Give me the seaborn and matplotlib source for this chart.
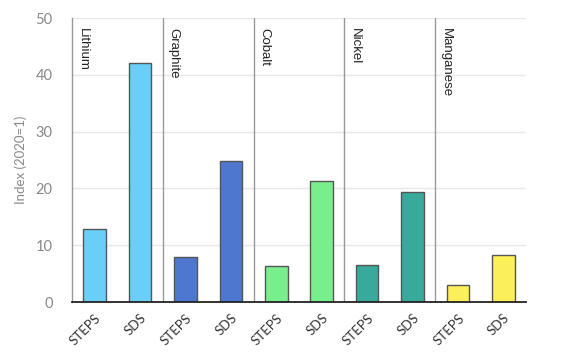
import pandas as pd
import matplotlib.pyplot as plt
import seaborn as sns

# Data
minerals = ['Lithium', 'Graphite', 'Cobalt', 'Nickel', 'Manganese']
scenarios = ['STEPS', 'SDS']
steps_values = [12.8, 7.9, 6.3, 6.5, 3.0]
sds_values = [42.0, 24.8, 21.3, 19.4, 8.3]
colors = ['#6ACFF8', '#4E78D0', '#78EE8C', '#38AA9C', '#FCF05A']

rows = []
for m, s, d in zip(minerals, steps_values, sds_values):
    rows.append({'mineral': m, 'scenario': 'STEPS', 'key': f'{m} STEPS', 'value': s})
    rows.append({'mineral': m, 'scenario': 'SDS', 'key': f'{m} SDS', 'value': d})
df = pd.DataFrame(rows)

sns.set_style('white')
plt.rcParams['font.family'] = ['Lato', 'DejaVu Sans']

fig = plt.figure(figsize=(5.73, 3.58), dpi=100)
ax = fig.add_axes([0.1257, 0.1564, 0.7923, 0.7933])

sns.barplot(data=df, x='key', y='value', hue='mineral', palette=colors,
            dodge=False, width=0.5, saturation=1, edgecolor='#555555', linewidth=1,
            legend=False, ax=ax)

n = len(df)
ax.set_xlim(-0.5, n - 0.5)
ax.set_ylim(0, 50)

# gridlines
for y in range(10, 51, 10):
    ax.axhline(y, color='#e8e8e8', linewidth=1, zorder=0)

# group separators and labels
for i, m in enumerate(minerals):
    x0 = i * 2 - 0.5
    if i > 0:
        ax.axvline(x0, color='#999999', linewidth=1, zorder=1)
    ax.text(x0 + 0.1, 48.3, m, rotation=270, ha='left', va='top',
            fontsize=9.5, color='#222222', family=['Liberation Sans', 'DejaVu Sans'])

# x ticks at band boundaries, labels at centers
ax.set_xticks([i - 0.5 for i in range(n + 1)])
ax.set_xticklabels([])
ax.tick_params(axis='x', which='major', length=8, width=1.3, color='#222222', direction='out')
ax.set_xticks(range(n), minor=True)
ax.set_xticklabels(df['scenario'], minor=True, rotation=45, ha='right',
                   rotation_mode='anchor', fontsize=9.5, color='#333333')
ax.tick_params(axis='x', which='minor', length=0, pad=7)

ax.set_yticks(range(0, 51, 10))
ax.tick_params(axis='y', length=0, pad=14, labelsize=10.5, labelcolor='#888888')

ax.set_xlabel('')
ax.set_ylabel('Index (2020=1)', color='#888888', fontsize=9.5, labelpad=6)

for side in ['top', 'right']:
    ax.spines[side].set_visible(False)
ax.spines['left'].set_color('#999999')
ax.spines['left'].set_linewidth(1)
ax.spines['bottom'].set_color('#222222')
ax.spines['bottom'].set_linewidth(1.3)

fig.savefig('out.png', dpi=100)
